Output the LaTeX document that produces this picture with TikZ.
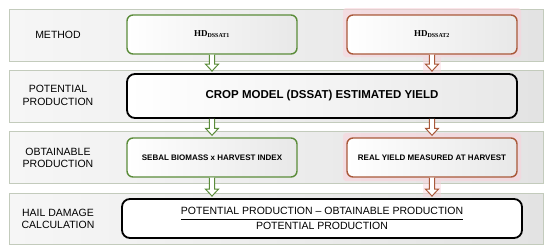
\documentclass[tikz,border=0pt]{standalone}
\usepackage{fontspec}
\setmainfont{Liberation Sans}
\newfontfamily\hdserif{Liberation Serif}
\usetikzlibrary{calc}
\definecolor{gborder}{HTML}{5B8C3A}
\definecolor{rborder}{HTML}{A9593A}
\definecolor{bandedge}{HTML}{C3CBBC}
\definecolor{glow}{HTML}{F9D3DB}
\newcommand\hollowdown[3]{%
  \path (#2) coordinate (ha) (#3) coordinate (hb);
  \draw[draw=#1, line width=1pt, fill=white, line join=miter]
    ($(ha)+(-2.6,0)$) -- ($(hb)+(-2.6,-9)$) -- ($(hb)+(-6.5,-9)$) -- ($(hb)+(0,-2)$)
    -- ($(hb)+(6.5,-9)$) -- ($(hb)+(2.6,-9)$) -- ($(ha)+(2.6,0)$);
}
\begin{document}
\begin{tikzpicture}[x=1pt,y=-1pt,
  band/.style={draw=bandedge, line width=1pt, left color=gray!7, right color=gray!22,
    minimum width=534pt, inner sep=0pt},
  lab/.style={align=center, font=\fontsize{10.5}{12.5}\selectfont, text=black},
  gbox/.style={draw=gborder, line width=1.4pt, rounded corners=6pt, left color=white,
    right color=gray!18, minimum width=170pt, minimum height=39pt, inner sep=0pt},
  rbox/.style={gbox, draw=rborder},
  kbox/.style={draw=black, line width=1.8pt, rounded corners=8pt, inner sep=0pt},
  small/.style={font=\fontsize{8}{9}\selectfont\bfseries}
  ]
\useasboundingbox (0,0) rectangle (550,250);
% bands
\node[band, minimum height=52pt] (b1) at (276,35) {};
\node[band, minimum height=52pt] (b2) at (276,96) {};
\node[band, minimum height=52pt] (b3) at (276,157.5) {};
\node[band, minimum height=51pt] (b4) at (276,218.5) {};
% glows
\fill[glow, opacity=0.6, rounded corners=3pt] (343,8) rectangle (521,57);
\fill[glow, opacity=0.6, rounded corners=3pt] (343,133) rectangle (521,181);
\fill[glow, opacity=0.45] (423,57) rectangle (441,73);
\fill[glow, opacity=0.45] (423,181) rectangle (441,197);
% labels
\node[lab] (l1) at (58,35) {METHOD};
\node[lab] (l2) at (58,95.5) {POTENTIAL\\PRODUCTION};
\node[lab] (l3) at (58,158) {OBTAINABLE\\PRODUCTION};
\node[lab] (l4) at (58,219) {HAIL DAMAGE\\CALCULATION};
% boxes
\node[gbox] (hd1) at (212,34.5) {\hdserif\fontsize{9}{10}\selectfont\bfseries HD\textsubscript{DSSAT1}};
\node[rbox] (hd2) at (432,34.5) {\hdserif\fontsize{9}{10}\selectfont\bfseries HD\textsubscript{DSSAT2}};
\node[kbox, left color=white, right color=gray!18, minimum width=390pt, minimum height=44pt,
  font=\fontsize{11.5}{12}\selectfont\bfseries] (crop) at (322,96) {CROP MODEL (DSSAT) ESTIMATED YIELD};
\node[gbox, small] (seb) at (212,157.5) {SEBAL BIOMASS x HARVEST INDEX};
\node[rbox, small] (real) at (432,157.5) {REAL YIELD MEASURED AT HARVEST};
\node[kbox, fill=white, minimum width=400pt, minimum height=39pt] (form) at (322,218.5)
  {\fontsize{10.5}{12}\selectfont$\displaystyle\frac{\hbox{POTENTIAL PRODUCTION – OBTAINABLE PRODUCTION}}{\hbox{POTENTIAL PRODUCTION}}$};
% arrows
\hollowdown{gborder}{hd1.south}{crop.north -| hd1.south}
\hollowdown{rborder}{hd2.south}{crop.north -| hd2.south}
\hollowdown{gborder}{crop.south -| seb.north}{seb.north}
\hollowdown{rborder}{crop.south -| real.north}{real.north}
\hollowdown{gborder}{seb.south}{form.north -| seb.south}
\hollowdown{rborder}{real.south}{form.north -| real.south}
\end{tikzpicture}
\end{document}
